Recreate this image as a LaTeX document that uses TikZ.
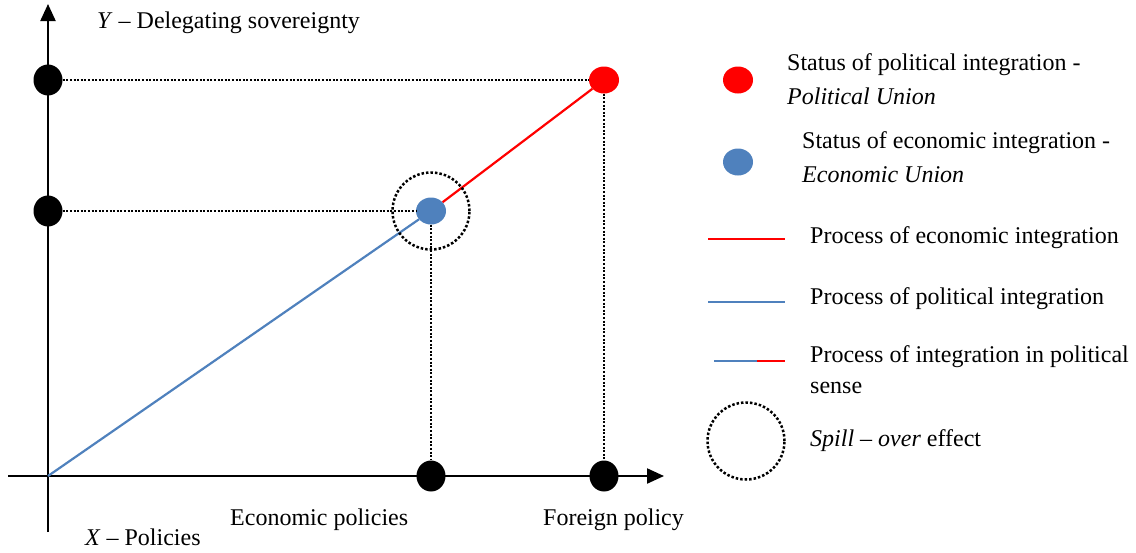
\documentclass[tikz,border=0pt]{standalone}
\usepackage{fontspec}
\setmainfont{Liberation Serif}
\usetikzlibrary{arrows.meta,shapes.geometric}
\definecolor{polred}{RGB}{255,0,0}
\definecolor{ecoblue}{RGB}{79,129,189}

\begin{document}
\begin{tikzpicture}[x=1pt,y=-1pt,font=\fontsize{24}{28}\selectfont,
        axis/.style={line width=2.2pt,-{Triangle[width=15pt,length=17pt]}},
        guide/.style={line width=2pt,dash pattern=on 2pt off 1.6pt},
        level/.style={ellipse,fill=black,inner sep=0pt,minimum width=29pt,minimum height=31pt},
        pu/.style={ellipse,fill=polred,inner sep=0pt,minimum width=30pt,minimum height=27pt},
        eu/.style={ellipse,fill=ecoblue,inner sep=0pt,minimum width=30pt,minimum height=27pt},
        spill/.style={circle,draw,line width=2.5pt,dash pattern=on 2.5pt off 2pt,inner sep=0pt,minimum size=77pt},
        polline/.style={polred,line width=2.2pt},
        ecoline/.style={ecoblue,line width=2.2pt},
        txt/.style={anchor=west,inner sep=0pt}]
        \useasboundingbox (0,0) rectangle (1136,552);

        % axes
        \coordinate (o) at (48,476);
        \coordinate (xs) at (8,476);
        \coordinate (xe) at (664,476);
        \coordinate (ys) at (48,532);
        \coordinate (ye) at (48,4);
        \draw[axis] (xs) -- (xe);
        \draw[axis] (ys) -- (ye);

        \node[txt] (ylab) at (97,23) {\textit{Y} – Delegating sovereignty};
        \node[txt] (xlab) at (85,537) {\textit{X} – Policies};
        \node[txt] (ecopol) at (230,520) {Economic policies};
        \node[txt] (forpol) at (543,520) {Foreign policy};

        % chart
        \node[level] (y2) at (48,80) {};
        \node[level] (y1) at (48,211) {};
        \node[level] (x1) at (431,476) {};
        \node[level] (x2) at (604,476) {};
        \node[pu] (polu) at (604,80) {};
        \node[eu] (ecou) at (431,211) {};

        \draw[guide] (y2) -- (polu);
        \draw[guide] (polu) -- (x2);
        \draw[guide] (y1) -- (ecou);
        \draw[guide] (ecou) -- (x1);
        \draw[ecoline] (o) -- (ecou);
        \draw[polline] (ecou) -- (polu);
        \node[spill] (over) at (ecou) {};

        % legend
        \node[pu] (lpolu) at (738,80) {};
        \node[txt] at (787,65) {Status of political integration -};
        \node[txt] at (787,96) {\textit{Political Union}};
        \node[eu] (lecou) at (738,162) {};
        \node[txt] at (802,143) {Status of economic integration -};
        \node[txt] at (802,175) {\textit{Economic Union}};

        \coordinate (r1) at (708,239);
        \coordinate (r2) at (785,239);
        \draw[polline] (r1) -- (r2);
        \node[txt] at (810,238) {Process of economic integration};

        \coordinate (b1) at (708,302);
        \coordinate (b2) at (785,302);
        \draw[ecoline] (b1) -- (b2);
        \node[txt] at (810,299) {Process of political integration};

        \coordinate (m1) at (714,361);
        \coordinate (m2) at (757,361);
        \coordinate (m3) at (785,361);
        \draw[ecoline] (m1) -- (m2);
        \draw[polline] (m2) -- (m3);
        \node[txt] at (810,357) {Process of integration in political};
        \node[txt] at (810,388) {sense};

        \node[spill] (lover) at (746,441) {};
        \node[txt] at (810,441) {\textit{Spill – over} effect};
\end{tikzpicture}
\end{document}
